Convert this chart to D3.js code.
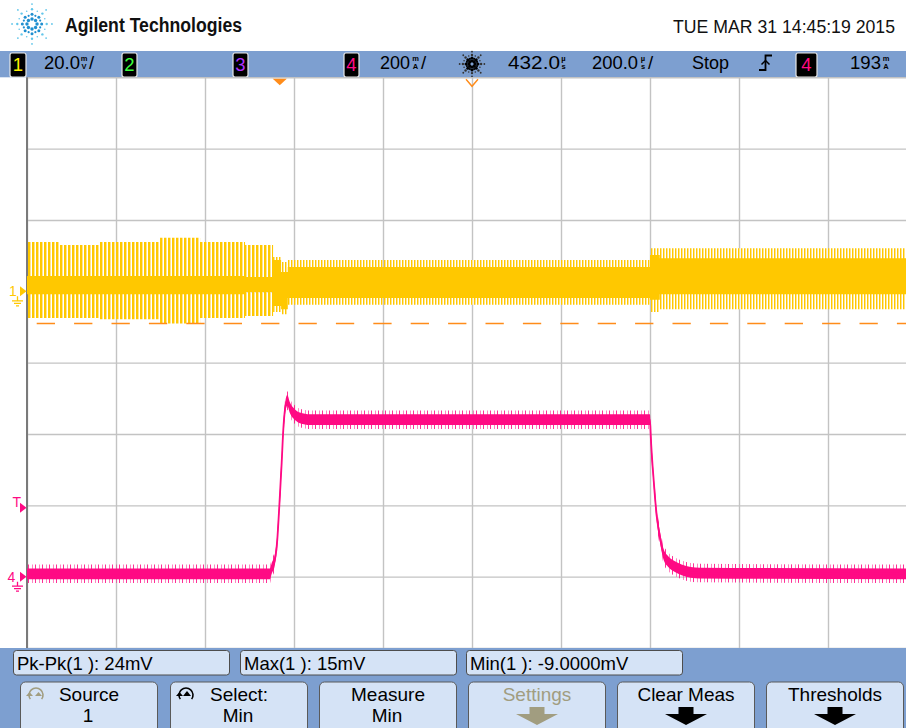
<!DOCTYPE html>
<html>
<head>
<meta charset="utf-8">
<script src="https://cdn.jsdelivr.net/npm/d3@7/dist/d3.min.js"></script>
<style>
  html, body { margin: 0; padding: 0; background: #ffffff; }
  svg { display: block; }
  text { font-family: "Liberation Sans", Arial, Helvetica, sans-serif; }
</style>
</head>
<body>
<svg id="scope" width="906" height="728"></svg>
<script>
// ---------------- Acquisition settings ----------------
const timePerDiv = 200;     // µs / div
const timeDelay = 432;      // µs at screen centre
const ch1Scale = 20;        // mV / div
const ch4Scale = 200;       // mA / div
const ch1PosDiv = 1;        // ch1 ground, divisions above centre
const ch4PosDiv = -3;       // ch4 ground, divisions above centre
const trigLevel = 193;      // mA, trigger level on ch4
const ch1Min = -9.0;        // mV, measured minimum (cursor line)
const stampText = "TUE MAR 31 14:45:19 2015";

// ---------------- Channel 1 (yellow) envelope, step segments ----------------
const ch1T       = [-568, -494, -404, -269, -179, -78, -15,  3,   18,  832,  854, 1432];
const ch1SpikeHi = [13.8, 13.0, 13.8, 15.0, 13.8, 13.0, 9.6, 8.2,  8.8, 12.1, 12.1, 12.1];
const ch1SpikeLo = [-7.5, -7.5, -7.8, -9.0, -7.5, -6.9,-5.8,-6.4, -3.8, -5.8, -5.0, -5.0];
const ch1CoreHi  = [ 4.3,  4.3,  4.3,  4.3,  4.3,  4.0, 8.8, 5.4,  6.8, 10.2,  9.3,  9.3];
const ch1CoreLo  = [-0.8, -0.8, -0.8, -0.8, -0.8, -0.2,-4.1,-5.0, -1.9, -2.4, -0.8, -0.8];
const ch1BurstEnd = -15;    // µs, end of the large oscillation burst

// ---------------- Channel 4 (pink) current ----------------
const ch4T = [-568, -22, -18, -11, -5.6, -1.1, 4.3, 7.9, 11.7, 16.9, 22.9, 34.2, 45.4, 68,
              831.8, 834.1, 837.9, 843.1, 848.2, 854.3, 861.7, 873, 888, 903, 944, 1432];
const ch4I = [8, 8, 24, 47, 103, 196, 319, 411, 468, 494, 473, 454, 445, 440,
              440, 383, 309, 224, 159, 112, 66, 42, 28, 19, 10, 8];
const ch4Noise = 15;        // mA, half width of the dense noise band
const ch4Spike = 26;        // mA, reach of the sparse noise spikes

// ---------------- Measurements and softkeys ----------------
const measLabels = ["Pk-Pk(1 ): 24mV", "Max(1 ): 15mV", "Min(1 ): -9.0000mV"];
const keyTop = ["Source", "Select:", "Measure", "Settings", "Clear Meas", "Thresholds"];
const keyBottom = ["1", "Min", "Min", "", "", ""];

// ---------------- Layout ----------------
const W = 906, H = 728;
const gL = 27, gR = 917, gT = 77.3, gB = 648;
const BLUE = "#7d9fd0", PANEL = "#d5e3f6";
const YEL = "#ffc800", YEL_L = "#ffe48e", PINK = "#ff0a84", ORANGE = "#ff8c1a";

const svg = d3.select("#scope");
const defs = svg.append("defs");

const x = d3.scaleLinear()
  .domain([timeDelay - 5 * timePerDiv, timeDelay + 5 * timePerDiv])
  .range([gL, gR]);
const y1 = d3.scaleLinear()
  .domain([(-4 - ch1PosDiv) * ch1Scale, (4 - ch1PosDiv) * ch1Scale])
  .range([gB, gT]);
const y4 = d3.scaleLinear()
  .domain([(-4 - ch4PosDiv) * ch4Scale, (4 - ch4PosDiv) * ch4Scale])
  .range([gB, gT]);

// textures for the sampled noise
const comb = defs.append("pattern").attr("id", "comb")
  .attr("patternUnits", "userSpaceOnUse").attr("width", 4).attr("height", 10);
comb.append("rect").attr("x", 0).attr("width", 2).attr("height", 10).attr("fill", YEL);
comb.append("rect").attr("x", 2).attr("width", 1).attr("height", 10).attr("fill", YEL_L);
const fuzz = defs.append("pattern").attr("id", "fuzz")
  .attr("patternUnits", "userSpaceOnUse").attr("width", 3).attr("height", 10);
fuzz.append("rect").attr("x", 0).attr("width", 1).attr("height", 10).attr("fill", YEL);
fuzz.append("rect").attr("x", 1).attr("width", 1).attr("height", 10).attr("fill", YEL_L);
const pfuzz = defs.append("pattern").attr("id", "pfuzz")
  .attr("patternUnits", "userSpaceOnUse").attr("width", 7).attr("height", 10);
pfuzz.append("rect").attr("x", 0).attr("width", 1).attr("height", 10).attr("fill", PINK).attr("opacity", 0.85);
pfuzz.append("rect").attr("x", 4).attr("width", 1).attr("height", 10).attr("fill", PINK).attr("opacity", 0.5);

defs.append("clipPath").attr("id", "plotClip").append("rect")
  .attr("x", gL).attr("y", gT).attr("width", gR - gL).attr("height", gB - gT);
defs.append("clipPath").attr("id", "burstClip").append("rect")
  .attr("x", gL).attr("y", gT).attr("width", x(ch1BurstEnd) - gL).attr("height", gB - gT);
defs.append("clipPath").attr("id", "afterClip").append("rect")
  .attr("x", x(ch1BurstEnd)).attr("y", gT).attr("width", gR - x(ch1BurstEnd)).attr("height", gB - gT);

svg.append("rect").attr("width", W).attr("height", H).attr("fill", "#fff");

// ---------------- Header ----------------
function spark(g, cx, cy, r, inner, outer) {
  for (let i = 0; i < 16; i++) {
    const a = i * Math.PI / 8;
    const main = i % 2 === 0;
    const rs = main ? [0.24, 0.46, 0.7, 0.95] : [0.42, 0.66];
    rs.forEach((f, k) => {
      g.append("circle")
        .attr("cx", cx + Math.cos(a) * r * f)
        .attr("cy", cy + Math.sin(a) * r * f)
        .attr("r", main ? [1.7, 1.5, 1.2, 0.9][k] : [1.1, 0.8][k])
        .attr("fill", f < 0.5 ? inner : outer);
    });
  }
}
spark(svg.append("g"), 32, 24, 21, "#1f8fd0", "#62c6ea");
svg.append("text").attr("x", 65).attr("y", 31.5)
  .attr("font-size", 20).attr("font-weight", "bold").attr("fill", "#111")
  .attr("textLength", 177).attr("lengthAdjust", "spacingAndGlyphs")
  .text("Agilent Technologies");
svg.append("text").attr("x", 673).attr("y", 33)
  .attr("font-size", 18).attr("fill", "#111")
  .attr("textLength", 222).attr("lengthAdjust", "spacingAndGlyphs")
  .text(stampText);

// ---------------- Status bar ----------------
const bar = svg.append("g");
bar.append("rect").attr("x", 0).attr("y", 51).attr("width", W).attr("height", gT - 51).attr("fill", BLUE);

function badge(xp, w, label, color) {
  bar.append("rect").attr("x", xp).attr("y", 53).attr("width", w).attr("height", 24)
    .attr("rx", 2).attr("fill", "#000").attr("stroke", "#e8e8e8").attr("stroke-width", 1.2);
  bar.append("text").attr("x", xp + w / 2).attr("y", 71).attr("text-anchor", "middle")
    .attr("font-size", 18.5).attr("fill", color).text(label);
}
function stxt(xp, s, len) {
  const t = bar.append("text").attr("x", xp).attr("y", 68.5).attr("font-size", 18.5).attr("fill", "#000").text(s);
  if (len) t.attr("textLength", len).attr("lengthAdjust", "spacingAndGlyphs");
}
// stacked unit glyph: prefix over base unit
function unit(cx, a, b) {
  bar.append("text").attr("x", cx).attr("y", 60.5).attr("text-anchor", "middle")
    .attr("font-size", 7.5).attr("font-weight", "bold").attr("fill", "#000").text(a);
  bar.append("text").attr("x", cx).attr("y", 69).attr("text-anchor", "middle")
    .attr("font-size", 7.5).attr("font-weight", "bold").attr("fill", "#000").text(b);
}
badge(10, 16, "1", "#fff200");
stxt(44, d3.format(".1f")(ch1Scale), 36); unit(84, "m", "V"); stxt(89, "/");
badge(122, 15, "2", "#3cff3c");
badge(233, 15, "3", "#b030ff");
badge(344, 15, "4", PINK);
stxt(380, d3.format("d")(ch4Scale), 30); unit(415.5, "m", "A"); stxt(421, "/");
spark(bar.append("g"), 472, 64, 13, "#000", "#333");
stxt(508, d3.format(".1f")(timeDelay), 52); unit(563.5, "µ", "s");
stxt(592, d3.format(".1f")(timePerDiv), 46); unit(643, "µ", "s"); stxt(648, "/");
stxt(692, "Stop", 37);
bar.append("path").attr("d", "M759,70 H765.5 V55.5 H772").attr("fill", "none")
  .attr("stroke", "#000").attr("stroke-width", 1.8);
bar.append("path").attr("d", "M761.5,64.5 L765.5,60.5 L769.5,64.5").attr("fill", "none")
  .attr("stroke", "#000").attr("stroke-width", 1.5);
badge(796, 21, "4", PINK);
stxt(850, d3.format("d")(trigLevel), 31); unit(886, "m", "A");

// ---------------- Graticule ----------------
const grid = svg.append("g");
const xTicks = d3.range(11).map(i => x.domain()[0] + i * timePerDiv);
const yTicks = d3.range(9).map(i => y1.domain()[0] + i * ch1Scale);
grid.append("g").attr("transform", `translate(0,${gT})`)
  .call(d3.axisBottom(x).tickValues(xTicks).tickSize(gB - gT).tickFormat(""))
  .call(g => g.select(".domain").remove())
  .call(g => g.selectAll("line").attr("stroke", "#c3c3c3").attr("stroke-width", 1.4));
grid.append("g").attr("transform", `translate(${gL},0)`)
  .call(d3.axisRight(y1).tickValues(yTicks).tickSize(gR - gL).tickFormat(""))
  .call(g => g.select(".domain").remove())
  .call(g => g.selectAll("line").attr("stroke", "#c3c3c3").attr("stroke-width", 1.4));
grid.append("line").attr("x1", gL).attr("x2", gL).attr("y1", gT).attr("y2", gB)
  .attr("stroke", "#7a7a7a").attr("stroke-width", 2);

// ---------------- Traces ----------------
const plot = svg.append("g").attr("clip-path", "url(#plotClip)");
const idx = d3.range(ch1T.length);

const spikeArea = d3.area().curve(d3.curveStepAfter)
  .x(i => x(ch1T[i])).y0(i => y1(ch1SpikeLo[i])).y1(i => y1(ch1SpikeHi[i]));
const coreArea = d3.area().curve(d3.curveStepAfter)
  .x(i => x(ch1T[i])).y0(i => y1(ch1CoreLo[i])).y1(i => y1(ch1CoreHi[i]));

plot.append("path").datum(idx).attr("d", spikeArea).attr("fill", "url(#comb)")
  .attr("clip-path", "url(#burstClip)");
plot.append("path").datum(idx).attr("d", spikeArea).attr("fill", "url(#fuzz)")
  .attr("clip-path", "url(#afterClip)");
plot.append("path").datum(idx).attr("d", coreArea).attr("fill", YEL);

// measured minimum cursor
plot.append("line").attr("x1", gL).attr("x2", gR)
  .attr("y1", y1(ch1Min)).attr("y2", y1(ch1Min))
  .attr("stroke", ORANGE).attr("stroke-width", 1.5)
  .attr("stroke-dasharray", "18.3,19.1").attr("stroke-dashoffset", -9.7);

const ch4Idx = d3.range(ch4T.length);
plot.append("path").datum(ch4Idx)
  .attr("d", d3.area().curve(d3.curveMonotoneX)
    .x(i => x(ch4T[i])).y0(i => y4(ch4I[i] - ch4Spike)).y1(i => y4(ch4I[i] + ch4Spike)))
  .attr("fill", "url(#pfuzz)");
plot.append("path").datum(ch4Idx)
  .attr("d", d3.area().curve(d3.curveMonotoneX)
    .x(i => x(ch4T[i])).y0(i => y4(ch4I[i] - ch4Noise)).y1(i => y4(ch4I[i] + ch4Noise)))
  .attr("fill", PINK);
plot.append("path").datum(ch4Idx)
  .attr("d", d3.line().curve(d3.curveMonotoneX).x(i => x(ch4T[i])).y(i => y4(ch4I[i])))
  .attr("fill", "none").attr("stroke", PINK).attr("stroke-width", 1.8);

// ---------------- Markers ----------------
const mk = svg.append("g");
const tx = x(0);
mk.append("path").attr("d", `M${tx - 7},${gT + 1.5} L${tx + 7},${gT + 1.5} L${tx},${gT + 8} Z`).attr("fill", ORANGE);
const dx = x(timeDelay);
mk.append("path").attr("d", `M${dx - 6},${gT + 2} L${dx},${gT + 9} L${dx + 6},${gT + 2}`)
  .attr("fill", "none").attr("stroke", ORANGE).attr("stroke-width", 1.4);

function groundMark(yv, label, color, lx) {
  mk.append("text").attr("x", lx).attr("y", yv + 5).attr("font-size", 14).attr("fill", color).text(label);
  mk.append("path").attr("d", `M20,${yv - 5} L26.5,${yv} L20,${yv + 5} Z`).attr("fill", color);
  mk.append("path").attr("d",
    `M17.5,${yv + 5} V${yv + 9} M12,${yv + 9.5} H23 M14,${yv + 12} H21 M16,${yv + 14.5} H19`)
    .attr("stroke", color).attr("stroke-width", 1.3).attr("fill", "none");
}
groundMark(y1(0), "1", YEL, 9);
groundMark(y4(0), "4", PINK, 7.5);
const yt = y4(trigLevel);
mk.append("text").attr("x", 12.5).attr("y", yt - 0.5).attr("font-size", 14).attr("fill", PINK).text("T");
mk.append("path").attr("d", `M20,${yt - 5} L26.5,${yt} L20,${yt + 5} Z`).attr("fill", PINK);

// ---------------- Measurement / softkey panel ----------------
const panel = svg.append("g");
panel.append("rect").attr("x", 0).attr("y", gB).attr("width", W).attr("height", H - gB).attr("fill", BLUE);
const measX = [13.5, 240.5, 466.5];
measLabels.forEach((s, i) => {
  panel.append("rect").attr("x", measX[i]).attr("y", 650.5).attr("width", 216).attr("height", 24.5)
    .attr("rx", 3).attr("fill", PANEL).attr("stroke", "#4d4d4d").attr("stroke-width", 1);
  panel.append("text").attr("x", measX[i] + 3.5).attr("y", 670).attr("font-size", 18.5)
    .attr("fill", "#000").text(s);
});

const keyX = [20.5, 170.5, 319.5, 468.5, 617.5, 766.5];
keyTop.forEach((s, i) => {
  const kx = keyX[i], cx = kx + 68.5;
  panel.append("rect").attr("x", kx).attr("y", 682).attr("width", 137).attr("height", 60)
    .attr("rx", 5).attr("fill", PANEL).attr("stroke", "#5a5a5a").attr("stroke-width", 1);
  const grey = i === 3;
  panel.append("text").attr("x", cx).attr("y", 700.5).attr("text-anchor", "middle")
    .attr("font-size", 19).attr("fill", grey ? "#a19d80" : "#000").text(s);
  if (keyBottom[i]) {
    panel.append("text").attr("x", cx - 1).attr("y", 722).attr("text-anchor", "middle")
      .attr("font-size", 19).attr("fill", "#000").text(keyBottom[i]);
  }
  if (i >= 3) {
    panel.append("path")
      .attr("d", `M${cx - 7.5},707 H${cx + 7.5} V714 H${cx + 21} L${cx},725 L${cx - 21},714 H${cx - 7.5} Z`)
      .attr("fill", grey ? "#a19d80" : "#000");
  }
});
// entry knob icons
function knob(cx, cy, color, filled) {
  panel.append("path").attr("d", d3.arc()({ innerRadius: 7, outerRadius: 7, startAngle: -2.2, endAngle: 2.2 }))
    .attr("transform", `translate(${cx},${cy})`).attr("fill", "none")
    .attr("stroke", color).attr("stroke-width", 1.6);
  panel.append("path").attr("d", `M${cx - 10},${cy + 1} L${cx - 6.5},${cy - 3} L${cx - 3},${cy + 1} Z`).attr("fill", color);
  if (filled) panel.append("path").attr("d", `M${cx - 3},${cy + 1} L${cx + 1},${cy - 4} L${cx + 5},${cy + 1} Z`).attr("fill", color);
  else panel.append("path").attr("d", `M${cx - 1},${cy + 1} L${cx + 2.5},${cy - 3} L${cx + 6},${cy + 1} Z`).attr("fill", color);
}
knob(36, 695, "#a19d80", false);
knob(186, 695, "#000", true);
</script>
</body>
</html>
